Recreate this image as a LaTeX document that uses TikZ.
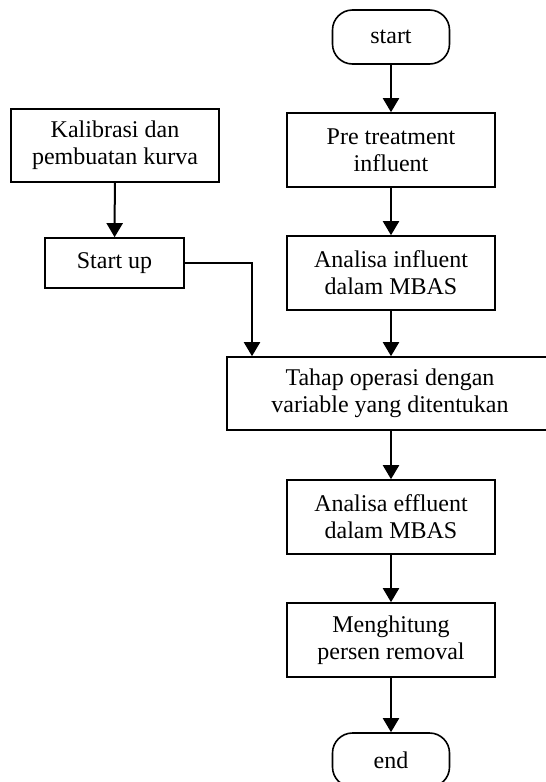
\documentclass[tikz,border=0pt]{standalone}
\usepackage{fontspec}
\setmainfont{Liberation Serif}
\usetikzlibrary{arrows.meta}
\begin{document}
\begin{tikzpicture}[x=1pt,y=1pt,
  box/.style={draw,line width=1.6pt,minimum width=208pt,minimum height=74pt,
    align=center,inner sep=0pt,font=\fontsize{24}{27}\selectfont},
  term/.style={box,rounded corners=20pt,minimum width=117pt,minimum height=54pt},
  flow/.style={line width=2pt,-{Triangle[length=14pt,width=16pt]}}]
\useasboundingbox (0,0) rectangle (546,-782);
% right column
\node[term] (start) at (391,-37) {start};
\node[box] (pre) at (391,-150) {Pre treatment\\influent};
\node[box] (anain) at (391,-273) {Analisa influent\\dalam MBAS};
\node[box,minimum width=326pt,minimum height=73pt] (tahap) at (390,-393.5) {Tahap operasi dengan\\variable yang ditentukan};
\node[box] (anaeff) at (391,-517) {Analisa effluent\\dalam MBAS};
\node[box] (hitung) at (391,-640) {Menghitung\\persen removal};
\node[term] (end) at (391,-760) {end};
% left column
\node[box,minimum height=73pt] (kal) at (115,-145.5) {Kalibrasi dan\\pembuatan kurva};
\node[box,minimum width=139pt,minimum height=50pt] (startup) at (114.5,-263) {Start up};
\coordinate (bend) at (252,-263);
% arrows
\draw[flow] (start) -- (pre);
\draw[flow] (pre) -- (anain);
\draw[flow] (anain) -- (tahap.north -| anain);
\draw[flow] (tahap.south -| anaeff) -- (anaeff);
\draw[flow] (anaeff) -- (hitung);
\draw[flow] (hitung) -- (end);
\draw[flow] (kal) -- (startup);
\draw[flow] (startup) -- (bend) -- (tahap.north -| bend);
\end{tikzpicture}
\end{document}
